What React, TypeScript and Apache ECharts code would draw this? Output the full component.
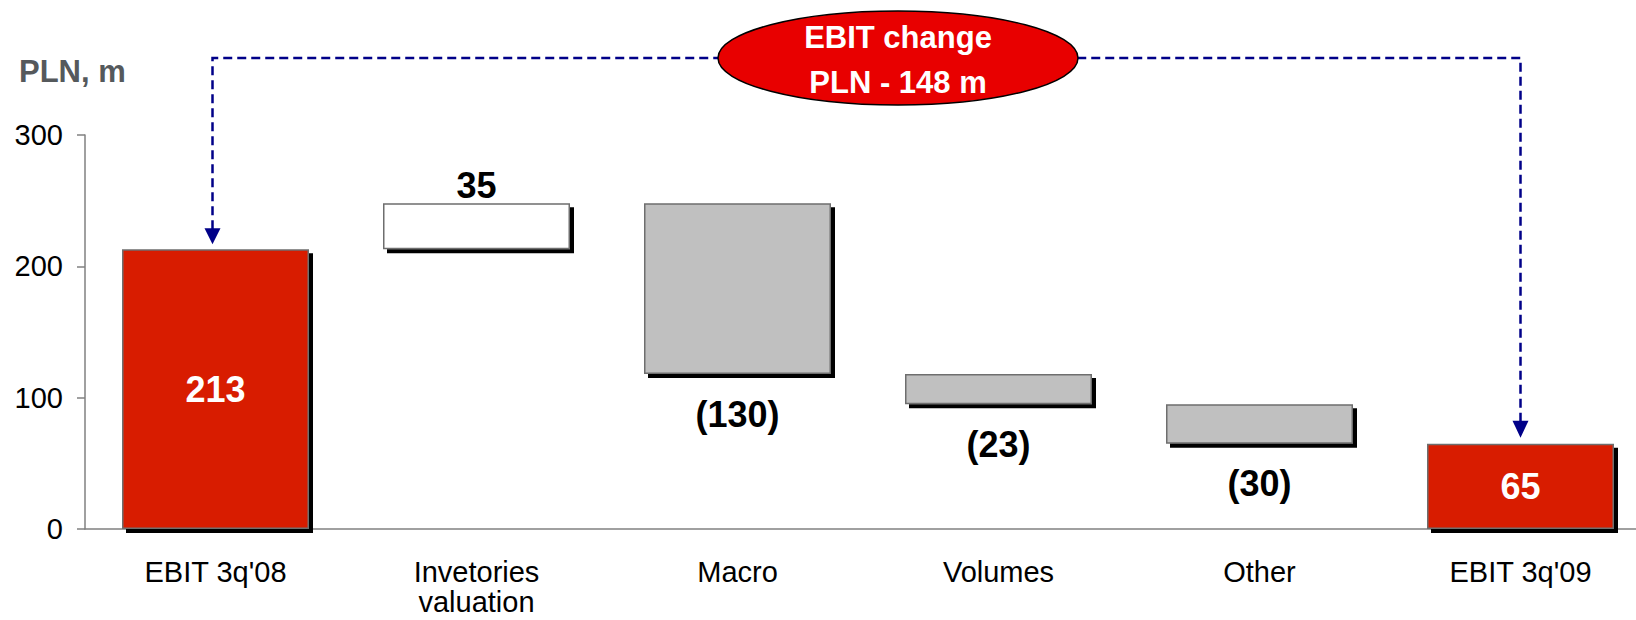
import React, { useEffect, useRef } from "react";
import * as echarts from "echarts";

const categories = ["EBIT 3q'08", "Invetories\nvaluation", "Macro", "Volumes", "Other", "EBIT 3q'09"];
const changes = [213, 35, -130, -23, -30, 65];
const kinds = ["total", "increase", "decrease", "decrease", "decrease", "total"];
const yTicks = [0, 100, 200, 300];
const unitTitle = "PLN, m";
const calloutLines = ["EBIT change", "PLN - 148 m"];

const FONT = "'Liberation Sans', Arial, Helvetica, sans-serif";
const RED = "#D81E05";
const GREY = "#C0C0C0";
const NAVY = "#000088";

function buildWaterfall() {
  const base: number[] = [];
  const height: number[] = [];
  let running = 0;
  changes.forEach((v, i) => {
    const k = kinds[i];
    if (k === "total") {
      base.push(0);
      height.push(v);
      running = v;
    } else if (k === "increase") {
      base.push(running);
      height.push(v);
      running += v;
    } else {
      running += v;
      base.push(running);
      height.push(-v);
    }
  });
  return { base, height };
}

function fmt(v: number) {
  return v < 0 ? `(${-v})` : `${v}`;
}

export default function App() {
  const ref = useRef<HTMLDivElement>(null);
  useEffect(() => {
    if (!ref.current) return;
    const chart = echarts.init(ref.current, undefined, { renderer: "svg" });
    const { base, height } = buildWaterfall();
    const visible = height.map((h, i) => {
      const k = kinds[i];
      const color = k === "total" ? RED : k === "increase" ? "#FFFFFF" : GREY;
      let label: any;
      if (k === "total") {
        label = { show: true, position: "inside", color: "#FFFFFF", fontSize: 36, fontWeight: "bold", fontFamily: FONT, formatter: fmt(changes[i]) };
      } else if (k === "increase") {
        label = { show: true, position: "top", distance: 0, color: "#000000", fontSize: 36, fontWeight: "bold", fontFamily: FONT, formatter: fmt(changes[i]) };
      } else {
        label = { show: true, position: "bottom", distance: 22, color: "#000000", fontSize: 36, fontWeight: "bold", fontFamily: FONT, formatter: fmt(changes[i]) };
      }
      return {
        value: h,
        itemStyle: {
          color,
          borderColor: "#6E6E6E",
          borderWidth: 1.5,
          shadowColor: "#000000",
          shadowOffsetX: 4,
          shadowOffsetY: 4,
          shadowBlur: 0,
        },
        label,
      };
    });

    chart.setOption({
      animation: false,
      grid: { left: 85, top: 135, width: 1566, bottom: 91, outerBoundsMode: "none", containLabel: false },
      xAxis: {
        type: "category",
        data: categories,
        axisLine: { lineStyle: { color: "#808080", width: 1.5 } },
        axisTick: { length: 8, lineStyle: { color: "#808080", width: 1.5 } },
        axisLabel: { color: "#000000", fontSize: 29, fontFamily: FONT, margin: 28, lineHeight: 30 },
      },
      yAxis: {
        type: "value",
        min: yTicks[0],
        max: yTicks[yTicks.length - 1],
        interval: yTicks[1] - yTicks[0],
        axisLine: { show: true, lineStyle: { color: "#808080", width: 1.5 } },
        axisTick: { show: true, length: 8, lineStyle: { color: "#808080", width: 1.5 } },
        splitLine: { show: false },
        axisLabel: { color: "#000000", fontSize: 29, fontFamily: FONT, margin: 22 },
      },
      series: [
        {
          type: "bar",
          stack: "wf",
          data: base,
          barWidth: 187,
          itemStyle: { color: "transparent" },
          silent: true,
        },
        {
          type: "bar",
          stack: "wf",
          data: visible,
          barWidth: 187,
        },
      ],
    });

    const last = categories.length - 1;
    const p1 = chart.convertToPixel({ gridIndex: 0 }, [0, base[0] + height[0]]) as number[];
    const p6 = chart.convertToPixel({ gridIndex: 0 }, [last, base[last] + height[last]]) as number[];
    const lineY = 58;
    const x1 = p1[0] - 3;
    const x6 = p6[0];
    const ellCx = 898;

    chart.setOption({
      graphic: [
        {
          type: "text",
          left: 19,
          top: 56,
          style: { text: unitTitle, fill: "#55595C", font: `bold 31px ${FONT}` },
        },
        {
          type: "polyline",
          shape: { points: [[x1, p1[1] - 20], [x1, lineY], [x6, lineY], [x6, p6[1] - 22]] },
          style: { stroke: NAVY, lineWidth: 2.5, lineDash: [9, 5], fill: "none" },
        },
        {
          type: "polygon",
          shape: { points: [[x1 - 8, p1[1] - 21], [x1 + 8, p1[1] - 21], [x1, p1[1] - 5]] },
          style: { fill: NAVY },
        },
        {
          type: "polygon",
          shape: { points: [[x6 - 8, p6[1] - 23], [x6 + 8, p6[1] - 23], [x6, p6[1] - 6]] },
          style: { fill: NAVY },
        },
        {
          type: "ellipse",
          shape: { cx: ellCx, cy: lineY, rx: 180, ry: 47 },
          style: { fill: "#E80000", stroke: "#000000", lineWidth: 1.5 },
        },
        {
          type: "text",
          x: ellCx,
          y: 37,
          style: { text: calloutLines[0], fill: "#FFFFFF", font: `bold 31px ${FONT}`, align: "center", verticalAlign: "middle" },
        },
        {
          type: "text",
          x: ellCx,
          y: 82,
          style: { text: calloutLines[1], fill: "#FFFFFF", font: `bold 31px ${FONT}`, align: "center", verticalAlign: "middle" },
        },
      ],
    });

    return () => chart.dispose();
  }, []);
  return <div ref={ref} style={{ position: "absolute", left: 0, top: 0, width: 1636, height: 620 }} />;
}
